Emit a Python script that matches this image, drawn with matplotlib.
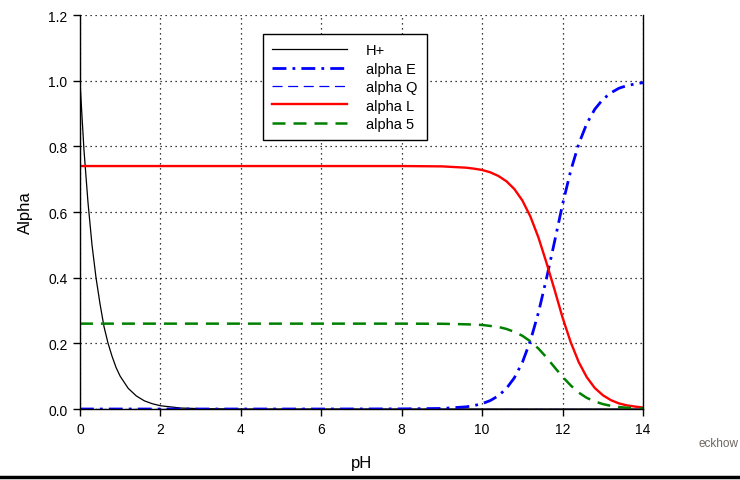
import matplotlib
matplotlib.use("Agg")
import matplotlib.pyplot as plt
from matplotlib.lines import Line2D

plt.rcParams['font.family'] = ['Liberation Sans', 'DejaVu Sans']

# H+ curve
ph_h = [0, 0.1, 0.2, 0.3, 0.4, 0.5, 0.6, 0.7, 0.8, 0.9, 1.0, 1.2, 1.4, 1.6, 1.8,
        2.0, 2.5, 3.0, 4.0, 14.0]
h_plus = [1.0, 0.79, 0.63, 0.50, 0.40, 0.32, 0.25, 0.20, 0.16, 0.126, 0.10,
          0.063, 0.040, 0.025, 0.016, 0.010, 0.003, 0.001, 0.0001, 0.0]

# species curves
ph = [0, 2, 4, 6, 8, 9, 9.6, 9.8, 10.0, 10.2, 10.4, 10.6, 10.8, 11.0, 11.2,
      11.4, 11.6, 11.8, 12.0, 12.2, 12.4, 12.6, 12.8, 13.0, 13.2, 13.4, 13.6,
      13.8, 14.0]
alpha_e = [0, 0, 0, 0, 0.0004, 0.0017, 0.0066, 0.0104, 0.0163, 0.0256, 0.040,
           0.062, 0.095, 0.142, 0.208, 0.294, 0.398, 0.51, 0.624, 0.725, 0.807,
           0.869, 0.913, 0.943, 0.963, 0.977, 0.985, 0.990, 0.994]
alpha_q = [0] * len(ph)
alpha_l = [0.74, 0.74, 0.74, 0.74, 0.74, 0.739, 0.735, 0.732, 0.728, 0.721,
           0.710, 0.694, 0.670, 0.635, 0.586, 0.522, 0.445, 0.363, 0.278,
           0.204, 0.143, 0.097, 0.064, 0.042, 0.027, 0.017, 0.011, 0.0074,
           0.0044]
alpha_5 = [0.26, 0.26, 0.26, 0.26, 0.26, 0.2596, 0.258, 0.257, 0.256, 0.253,
           0.250, 0.244, 0.235, 0.223, 0.206, 0.184, 0.157, 0.127, 0.098,
           0.072, 0.050, 0.034, 0.023, 0.015, 0.0096, 0.006, 0.0039, 0.0026,
           0.0016]

fig = plt.figure(figsize=(7.4, 4.81), dpi=100)
ax = fig.add_axes([0.108, 0.1476, 0.761, 0.8191])

ax.plot(ph_h, h_plus, color='black', lw=0.9, label='H+')
ax.plot(ph, alpha_e, color='blue', lw=2, dashes=(5, 2.2, 1, 2.2), label='alpha E')
ax.plot(ph, alpha_q, color='blue', lw=0.9, dashes=(8, 4.5), label='alpha Q')
ax.plot(ph, alpha_l, color='red', lw=1.7, label='alpha L')
ax.plot(ph, alpha_5, color='green', lw=1.8, dashes=(5.2, 3.2), label='alpha 5')

ax.set_xlim(0, 14)
ax.set_ylim(0, 1.2)
ax.set_xticks(range(0, 15, 2))
ax.set_yticks([0.0, 0.2, 0.4, 0.6, 0.8, 1.0, 1.2])
ax.set_yticklabels(['0.0', '0.2', '0.4', '0.6', '0.8', '1.0', '1.2'])
ax.tick_params(direction='out', length=5, width=1, labelsize=10, pad=4)
ax.grid(True, color='black', linestyle=(0, (1, 3)), linewidth=0.9)
ax.spines['top'].set_visible(False)
for s in ['left', 'bottom', 'right']:
    ax.spines[s].set_linewidth(1)

ax.set_xlabel('pH', fontsize=12, labelpad=14)
ax.set_ylabel('Alpha', fontsize=12, labelpad=11)

leg = ax.legend(loc='upper left', bbox_to_anchor=(0.325, 0.952), borderaxespad=0,
                fontsize=10.5, handlelength=5.1, labelspacing=0.3, handletextpad=1.3,
                fancybox=False, framealpha=1, edgecolor='black', borderpad=0.65)
leg.get_frame().set_linewidth(1)

fig.text(0.998, 0.077, 'eckhow', ha='right', va='center', fontsize=8.5, color='#6e6660')
fig.add_artist(Line2D([0, 1], [0.006, 0.006], color='black', lw=2.5,
                      transform=fig.transFigure))

fig.savefig('out.png', dpi=100)
